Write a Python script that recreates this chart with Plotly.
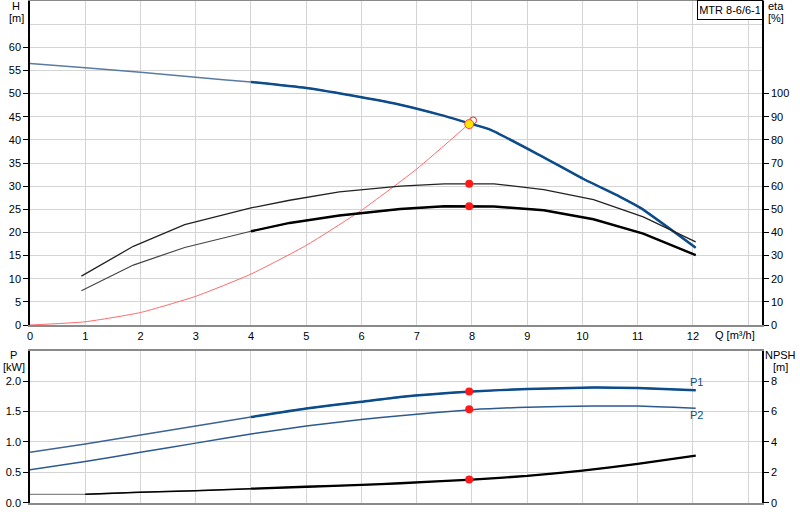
import plotly.graph_objects as go

# ---------------- data ----------------
q_h = [0, 1, 2, 3, 4, 5, 6, 6.7, 7.43, 8, 8.33, 9.24, 10.01, 10.68, 11.05, 12.05]
h_vals = [56.5, 55.6, 54.6, 53.5, 52.5, 51.2, 49.2, 47.6, 45.4, 43.4, 42.2, 36.6, 31.6, 27.7, 25.3, 16.7]

q_eta = [0.93, 1.87, 2.8, 4, 4.7, 5.6, 6.7, 7.5, 8, 8.4, 9.3, 10.2, 11.1, 12.05]
eta_upper = [21.1, 34.0, 43.4, 50.6, 53.9, 57.5, 60.0, 61.0, 61.0, 61.0, 58.5, 54.2, 46.7, 35.9]
eta_lower = [14.8, 25.9, 33.5, 40.5, 44.1, 47.3, 50.1, 51.3, 51.3, 51.2, 49.6, 45.7, 39.5, 30.2]

q_sys = [0, 1, 2, 3, 4, 5, 6, 7, 7.95]
h_sys = [0, 0.7, 2.7, 6.2, 11.0, 17.2, 24.8, 33.7, 43.5]

q_p = [0, 1, 2, 3, 4, 5, 6, 6.7, 8, 9, 10.2, 11, 12.05]
p1_vals = [0.83, 0.967, 1.115, 1.26, 1.41, 1.55, 1.66, 1.74, 1.83, 1.87, 1.895, 1.885, 1.85]
p2_vals = [0.54, 0.676, 0.83, 0.98, 1.13, 1.26, 1.37, 1.43, 1.53, 1.57, 1.59, 1.59, 1.555]

q_npsh = [0, 1, 2, 3, 4, 5, 6, 6.7, 8, 9, 10, 11, 12.05]
npsh_vals = [0.55, 0.55, 0.69, 0.79, 0.92, 1.05, 1.17, 1.28, 1.52, 1.76, 2.11, 2.55, 3.1]

q_op = 7.95
h_op = 43.4
eta_op_upper = 61.0
eta_op_lower = 51.3
p1_op = 1.83
p2_op = 1.535
npsh_op = 1.52
q_req, h_req = 8.02, 44.2

x_ticks = list(range(0, 14))
h_ticks = list(range(0, 61, 5))
eta_ticks = list(range(0, 101, 10))
p_ticks = [0.0, 0.5, 1.0, 1.5, 2.0]
npsh_ticks = [0, 2, 4, 6, 8]

BLUE = "#0d4c8b"
RED = "#ff1a1a"
GRID = "#d4d4d4"
FONT = "Liberation Sans, Arial, sans-serif"
Q_BOLD = 4


def split(qs, vs, q0=Q_BOLD, q1=99):
    sel = [(q, v) for q, v in zip(qs, vs) if q0 <= q <= q1]
    return [t[0] for t in sel], [t[1] for t in sel]


def line(color, width, smooth=True):
    if smooth:
        return dict(color=color, width=width, shape="spline", smoothing=0.5)
    return dict(color=color, width=width)


fig = go.Figure()

# ---- upper chart ----
fig.add_trace(go.Scatter(x=q_sys, y=h_sys, mode="lines", line=line("#ff6a6a", 1),
                         xaxis="x", yaxis="y"))
fig.add_trace(go.Scatter(x=q_h, y=h_vals, mode="lines", line=line("#5a7aa2", 1.5),
                         xaxis="x", yaxis="y"))
qx, hx = split(q_h, h_vals)
fig.add_trace(go.Scatter(x=qx, y=hx, mode="lines", line=line(BLUE, 2.5),
                         xaxis="x", yaxis="y"))
fig.add_trace(go.Scatter(x=q_eta, y=eta_upper, mode="lines", line=line("#222", 1.3, False),
                         xaxis="x", yaxis="y2"))
fig.add_trace(go.Scatter(x=q_eta, y=eta_lower, mode="lines", line=line("#444", 1.2, False),
                         xaxis="x", yaxis="y2"))
qx, ex = split(q_eta, eta_lower)
fig.add_trace(go.Scatter(x=qx, y=ex, mode="lines", line=line("black", 2.4, False),
                         xaxis="x", yaxis="y2"))
fig.add_trace(go.Scatter(x=[q_op, q_op], y=[eta_op_upper, eta_op_lower], mode="markers",
                         marker=dict(color=RED, size=8), xaxis="x", yaxis="y2"))
fig.add_trace(go.Scatter(x=[q_req], y=[h_req], mode="markers",
                         marker=dict(color="rgba(0,0,0,0)", size=7, line=dict(color=RED, width=1)),
                         xaxis="x", yaxis="y"))
fig.add_trace(go.Scatter(x=[q_op], y=[h_op], mode="markers",
                         marker=dict(color="#ffe600", size=9, line=dict(color="#ff4040", width=1)),
                         xaxis="x", yaxis="y"))

# ---- lower chart ----
fig.add_trace(go.Scatter(x=q_p, y=p1_vals, mode="lines", line=line("#3d6494", 1.5),
                         xaxis="x2", yaxis="y3"))
qx, px = split(q_p, p1_vals)
fig.add_trace(go.Scatter(x=qx, y=px, mode="lines", line=line(BLUE, 2.5),
                         xaxis="x2", yaxis="y3"))
fig.add_trace(go.Scatter(x=q_p, y=p2_vals, mode="lines", line=line("#2c5a90", 1.5),
                         xaxis="x2", yaxis="y3"))
fig.add_trace(go.Scatter(x=q_npsh, y=npsh_vals, mode="lines", line=line("#888", 1.3),
                         xaxis="x2", yaxis="y4"))
qx, nx = split(q_npsh, npsh_vals, 1, 4)
fig.add_trace(go.Scatter(x=qx, y=nx, mode="lines", line=line("black", 1.5),
                         xaxis="x2", yaxis="y4"))
qx, nx = split(q_npsh, npsh_vals, 4)
fig.add_trace(go.Scatter(x=qx, y=nx, mode="lines", line=line("black", 2.3),
                         xaxis="x2", yaxis="y4"))
fig.add_trace(go.Scatter(x=[q_op, q_op], y=[p1_op, p2_op], mode="markers",
                         marker=dict(color=RED, size=8), xaxis="x2", yaxis="y3"))
fig.add_trace(go.Scatter(x=[q_op], y=[npsh_op], mode="markers",
                         marker=dict(color=RED, size=8), xaxis="x2", yaxis="y4"))

W, H = 800, 520
xdom = [30 / W, 762 / W]
top_dom = [1 - 325 / H, 1 - 1 / H]
bot_dom = [1 - 502.7 / H, 1 - 350.7 / H]
xr = [0, 13.25]

axis_font = dict(family=FONT, size=11, color="black")

fig.update_layout(
    width=W, height=H, margin=dict(l=0, r=0, t=0, b=0, autoexpand=False),
    paper_bgcolor="white", plot_bgcolor="white", showlegend=False,
    font=dict(family=FONT, size=11, color="black"),
    hovermode=False,
    xaxis=dict(domain=xdom, range=xr, anchor="y", tickvals=x_ticks,
               ticktext=[str(v) for v in x_ticks[:-1]] + [""], automargin=False,
               showgrid=True, gridcolor=GRID, gridwidth=1, zeroline=False,
               showline=True, linecolor="#8a8a8a", linewidth=2, mirror=True,
               ticks="", tickfont=axis_font),
    yaxis=dict(domain=top_dom, range=[0, 70], anchor="x", tickvals=h_ticks, automargin=False,
               showgrid=True, gridcolor=GRID, gridwidth=1, zeroline=False,
               minor=dict(tickvals=[65], showgrid=True, gridcolor=GRID, ticks=""),
               showline=True, linecolor="black", linewidth=1.5,
               ticks="outside", ticklen=5, tickcolor="black", tickfont=axis_font),
    yaxis2=dict(range=[0, 140], overlaying="y", side="right", anchor="x", tickvals=eta_ticks,
                automargin=False,
                showgrid=False, zeroline=False, showline=True, linecolor="black", linewidth=1.5,
                ticks="outside", ticklen=5, tickcolor="black", tickfont=axis_font),
    xaxis2=dict(domain=xdom, range=xr, anchor="y3", tickvals=x_ticks, showticklabels=False,
                automargin=False,
                showgrid=True, gridcolor=GRID, gridwidth=1, zeroline=False,
                showline=True, linecolor="#8a8a8a", linewidth=2, mirror=True, ticks=""),
    yaxis3=dict(domain=bot_dom, range=[0, 2.5], anchor="x2", tickvals=p_ticks, tickformat=".1f",
                automargin=False,
                showgrid=True, gridcolor=GRID, gridwidth=1, zeroline=False,
                showline=True, linecolor="black", linewidth=1.5,
                ticks="outside", ticklen=5, tickcolor="black", tickfont=axis_font),
    yaxis4=dict(range=[0, 10], overlaying="y3", side="right", anchor="x2", tickvals=npsh_ticks,
                automargin=False,
                showgrid=False, zeroline=False, showline=True, linecolor="black", linewidth=1.5,
                ticks="outside", ticklen=5, tickcolor="black", tickfont=axis_font),
)


def note(text, x, y, xanchor="center", **kw):
    fig.add_annotation(text=text, x=x / W, y=1 - y / H, xref="paper", yref="paper",
                       showarrow=False, xanchor=xanchor, yanchor="middle",
                       font=dict(family=FONT, size=kw.pop("size", 11), color=kw.pop("color", "black")), **kw)


note("H", 16, 6)
note("[m]", 16, 18)
note("eta", 776, 6)
note("[%]", 776, 18)
note("P", 13, 355)
note("[kW]", 14, 367)
note("NPSH", 780, 355)
note("[m]", 780, 367)
note("Q [m³/h]", 757, 335, xanchor="right")
note("P1", 696, 382, color=BLUE)
note("P2", 696, 415, color=BLUE)
note("MTR 8-6/6-1", 729.5, 10, bordercolor="black", borderwidth=1, borderpad=2,
     bgcolor="white", width=60, height=14)

fig.write_html("out.html", config={"displayModeBar": False},
               post_script="document.body.style.margin='0';document.body.style.padding='0';")
